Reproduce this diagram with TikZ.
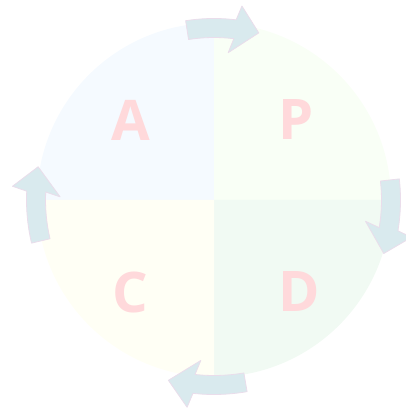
\documentclass[tikz,border=0pt]{standalone}
\usepackage{fontspec}
\setmainfont{Open Sans}
\usetikzlibrary{calc}
\definecolor{qa}{HTML}{F5FAFF}
\definecolor{qp}{HTML}{F9FFF6}
\definecolor{qd}{HTML}{F1FAF3}
\definecolor{qc}{HTML}{FFFFF5}
\definecolor{lettercol}{HTML}{FFD9DB}
\definecolor{arrowfill}{HTML}{D9EAEE}
\definecolor{arrowline}{HTML}{EADDEB}
\tikzset{
  letter/.style={text=lettercol, font=\fontsize{56}{60}\selectfont\bfseries, inner sep=0pt},
  cycarrowstyle/.style={fill=arrowfill, draw=arrowline, line width=0.8pt, line join=round},
}
\newcommand{\cycarrow}[2]{%
  \filldraw[cycarrowstyle]
    ($(O)+(#1:#2-9.5)$) -- ($(O)+(#1+1.5:#2-24)$) -- ($(O)+(#1-8:#2+1)$)
    -- ($(O)+(#1-1.2:#2+24)$) -- ($(O)+(#1:#2+9.5)$)
    arc[start angle=#1, end angle=#1+16, radius=#2+9.5]
    -- ($(O)+(#1+16:#2-9.5)$)
    arc[start angle=#1+16, end angle=#1, radius=#2-9.5] -- cycle;
}
\begin{document}
\begin{tikzpicture}[x=1pt,y=1pt]
\useasboundingbox (0,0) rectangle (405,411);
\coordinate (O) at (214,211);
\def\R{177}
\fill[qa] (O) -- ++(180:\R) arc[start angle=180, end angle=90, radius=\R] -- cycle;
\fill[qp] (O) -- ++(90:\R) arc[start angle=90, end angle=0, radius=\R] -- cycle;
\fill[qd] (O) -- ++(0:\R) arc[start angle=0, end angle=-90, radius=\R] -- cycle;
\fill[qc] (O) -- ++(-90:\R) arc[start angle=-90, end angle=-180, radius=\R] -- cycle;
\node[letter] (A) at (131,291) {A};
\node[letter] (P) at (296,291) {P};
\node[letter] (C) at (130,119) {C};
\node[letter] (D) at (299,119) {D};
\cycarrow{83}{172}
\cycarrow{-9.5}{177}
\cycarrow{-96.2}{185}
\cycarrow{177.3}{178}
\end{tikzpicture}
\end{document}
